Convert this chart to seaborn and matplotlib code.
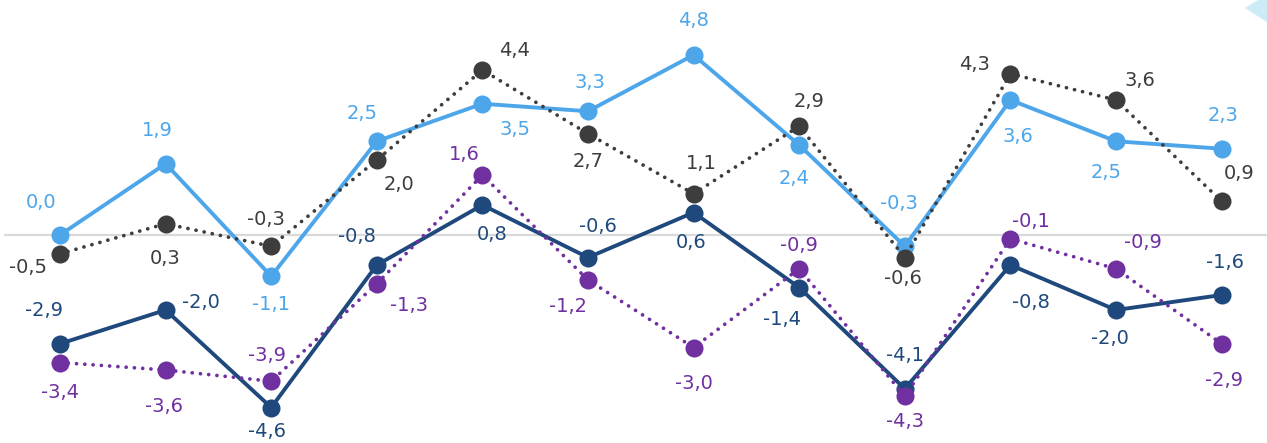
"""Four-series line chart with point labels and a zero baseline."""

import matplotlib

matplotlib.use("Agg")

import matplotlib.pyplot as plt
import pandas as pd
import seaborn as sns
from matplotlib.patches import Polygon


POSITIONS = list(range(12))

LIGHT_BLUE = [0.0, 1.9, -1.1, 2.5, 3.5, 3.3, 4.8, 2.4, -0.3, 3.6, 2.5, 2.3]
DARK_GRAY = [-0.5, 0.3, -0.3, 2.0, 4.4, 2.7, 1.1, 2.9, -0.6, 4.3, 3.6, 0.9]
NAVY = [-2.9, -2.0, -4.6, -0.8, 0.8, -0.6, 0.6, -1.4, -4.1, -0.8, -2.0, -1.6]
PURPLE = [-3.4, -3.6, -3.9, -1.3, 1.6, -1.2, -3.0, -0.9, -4.3, -0.1, -0.9, -2.9]

# label offsets from each point, in pixels (x right, y down)
LIGHT_BLUE_OFFSETS = [(-19, -32), (-8, -33), (0, 28), (-15, -28), (33, 26), (2, -29),
                      (0, -34), (-5, 33), (-6, -43), (8, 36), (-10, 31), (1, -33)]
DARK_GRAY_OFFSETS = [(-32, 14), (0, 35), (-5, -27), (22, 25), (32, -19), (0, 28),
                     (8, -30), (10, -25), (-2, 21), (-36, -9), (24, -20), (18, -28)]
NAVY_OFFSETS = [(-16, -33), (35, -7), (-4, 24), (-20, -29), (10, 29), (10, -31),
                (-2, 30), (-17, 32), (0, -33), (21, 38), (-6, 29), (3, -32)]
PURPLE_OFFSETS = [(0, 30), (-2, 37), (-4, -26), (32, 22), (-18, -20), (-20, 27),
                  (0, 36), (0, -23), (0, 25), (21, -17), (27, -26), (2, 37)]

SERIES = [
    ("light_blue", LIGHT_BLUE, LIGHT_BLUE_OFFSETS, "#4DA6EA", "-"),
    ("dark_gray", DARK_GRAY, DARK_GRAY_OFFSETS, "#3D3D3D", (0, (0.01, 2.2))),
    ("navy", NAVY, NAVY_OFFSETS, "#1F497D", "-"),
    ("purple", PURPLE, PURPLE_OFFSETS, "#7030A0", (0, (0.01, 2.2))),
]


def fmt(value: float) -> str:
    return f"{value:.1f}".replace(".", ",")


def main() -> None:
    sns.set_theme(style="white")
    plt.rcParams["font.family"] = ["DejaVu Sans"]

    fig = plt.figure(figsize=(12.67, 4.43), dpi=100)
    ax = fig.add_axes([0, 0, 1, 1])

    # pixel 60 -> position 0, 105.6 px per step; pixel 235 -> 0, 37.5 px per unit
    ax.set_xlim(-60 / 105.6, (1267 - 60) / 105.6)
    ax.set_ylim(-(443 - 235) / 37.5, 235 / 37.5)
    ax.axhline(0, xmin=5 / 1267, xmax=1, color="#D9D9D9", lw=1.6, zorder=1)

    for name, values, offsets, color, style in SERIES:
        df = pd.DataFrame({"pos": POSITIONS, "value": values})
        sns.lineplot(
            data=df,
            x="pos",
            y="value",
            ax=ax,
            color=color,
            linestyle=style,
            lw=2.8 if style == "-" else 2.7,
            dash_capstyle="round",
            marker="o",
            markersize=13,
            markeredgewidth=0,
            zorder=3,
        )
        for pos, value, (dx, dy) in zip(POSITIONS, values, offsets):
            ax.annotate(
                fmt(value),
                xy=(pos, value),
                xytext=(dx, -dy),
                textcoords="offset pixels",
                ha="center",
                va="center",
                fontsize=14,
                color=color,
            )

    ax.axis("off")

    corner = Polygon(
        [(1245 / 1267, 1 - 8 / 443), (1258 / 1267, 1.0), (1.0, 1.0), (1.0, 1 - 22 / 443)],
        closed=True,
        transform=fig.transFigure,
        facecolor="#CDEAF7",
        edgecolor="none",
    )
    fig.add_artist(corner)

    fig.savefig("out.png", dpi=100)
    plt.close(fig)


if __name__ == "__main__":
    main()
